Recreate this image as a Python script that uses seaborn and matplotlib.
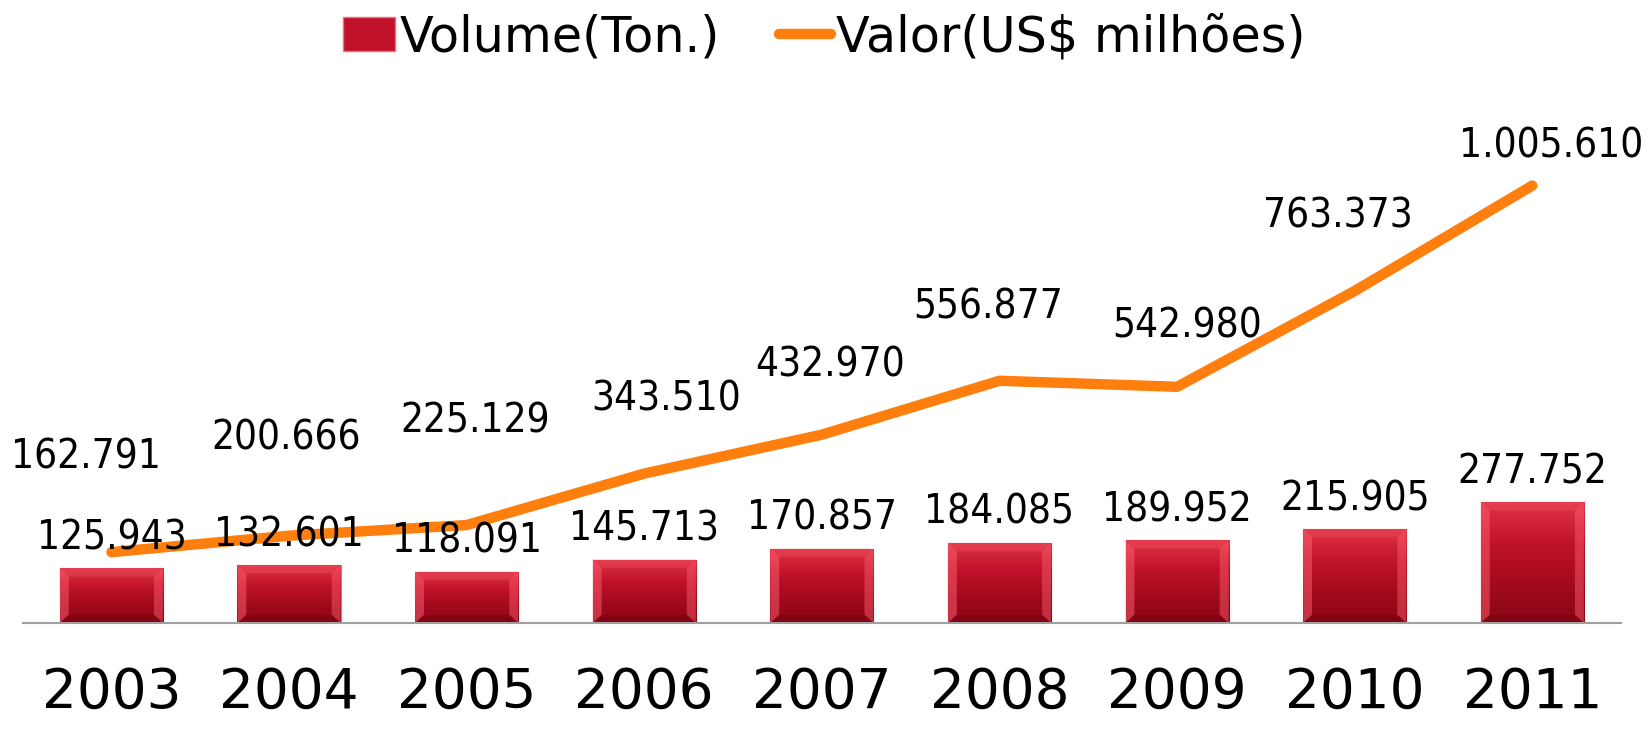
import numpy as np
import pandas as pd
import matplotlib
matplotlib.use("Agg")
import matplotlib.pyplot as plt
from matplotlib import font_manager
from matplotlib.patches import Polygon, Patch
from matplotlib.lines import Line2D
import seaborn as sns

years = ["2003", "2004", "2005", "2006", "2007", "2008", "2009", "2010", "2011"]
volume = [125943, 132601, 118091, 145713, 170857, 184085, 189952, 215905, 277752]
valor = [162791, 200666, 225129, 343510, 432970, 556877, 542980, 763373, 1005610]

# label offsets in pixels (dx, dy) for the line labels
valor_dx = [-25, -3, 9, 22, 8, -11, 10, -17, 19]
valor_dy = [95, 97, 104, 74, 69, 73, 60, 74, 39]


def fmt(v):
    return f"{v:,}".replace(",", ".")


sns.set_theme(style="white")
plt.rcParams["font.family"] = ["DejaVu Sans"]

cond = font_manager.FontProperties(family="DejaVu Sans", stretch="condensed")
cond_file = font_manager.findfont(cond)
is_cond = "Condensed" in cond_file
label_size = 29 if is_cond else 26

df = pd.DataFrame({"ano": years, "volume": volume, "valor": valor})

fig = plt.figure(figsize=(16.48, 7.3), dpi=100)
ax = fig.add_axes([0.0137, 0.1466, 0.97, 0.715])

sns.barplot(data=df, x="ano", y="volume", color="#c0102a", width=0.58,
            saturation=1, ax=ax, zorder=2)

# gradient + bevel look on the bars
grad = np.linspace(0, 1, 256).reshape(-1, 1)
cmap = matplotlib.colors.LinearSegmentedColormap.from_list(
    "barred", ["#e03444", "#c2132b", "#a30a1e", "#8a0614"])
bx, by = 0.05, 19000
for p in ax.patches:
    x0, y0 = p.get_x(), p.get_y()
    w, h = p.get_width(), p.get_height()
    im = ax.imshow(grad, cmap=cmap, aspect="auto", extent=[x0, x0 + w, y0, y0 + h],
                   origin="upper", zorder=2.1)
    im.set_clip_path(p)
    p.set_edgecolor("#f07080")
    p.set_linewidth(0.8)
    x1, y1 = x0 + w, y0 + h
    left = Polygon([[x0, y0], [x0, y1], [x0 + bx, y1 - by], [x0 + bx, y0 + by]],
                   closed=True, facecolor="#ff6070", alpha=0.5, lw=0, zorder=2.2)
    right = Polygon([[x1, y0], [x1, y1], [x1 - bx, y1 - by], [x1 - bx, y0 + by]],
                    closed=True, facecolor="#ff6070", alpha=0.45, lw=0, zorder=2.2)
    top = Polygon([[x0, y1], [x1, y1], [x1 - bx, y1 - by], [x0 + bx, y1 - by]],
                  closed=True, facecolor="#f05565", alpha=0.35, lw=0, zorder=2.2)
    bot = Polygon([[x0, y0], [x1, y0], [x1 - bx, y0 + by], [x0 + bx, y0 + by]],
                  closed=True, facecolor="#700010", alpha=0.35, lw=0, zorder=2.2)
    for poly in (left, right, top, bot):
        ax.add_patch(poly)

sns.lineplot(x=np.arange(len(years)), y=valor, color="#ff7f0e", linewidth=7.5,
             solid_capstyle="round", solid_joinstyle="round", ax=ax, zorder=3)

for i, v in enumerate(volume):
    ax.annotate(fmt(v), (i, v), xytext=(0, 30), textcoords="offset pixels",
                ha="center", va="center", fontsize=label_size, color="black",
                fontstretch="condensed", zorder=4)
for i, v in enumerate(valor):
    ax.annotate(fmt(v), (i, v), xytext=(valor_dx[i], valor_dy[i]),
                textcoords="offset pixels", ha="center", va="center",
                fontsize=label_size, color="black", fontstretch="condensed", zorder=4)

ax.set_xlim(-0.5, len(years) - 0.5)
ax.set_ylim(0, 1.2e6)
ax.set_yticks([])
ax.set_xlabel("")
ax.set_ylabel("")
for s in ["top", "right", "left"]:
    ax.spines[s].set_visible(False)
ax.spines["bottom"].set_color("#a0a0a0")
ax.spines["bottom"].set_linewidth(1.5)
ax.tick_params(axis="x", length=0, pad=31, labelsize=39.5, labelcolor="black")

handles = [Patch(facecolor="#c0102a", edgecolor="#f07080"),
           Line2D([0], [0], color="#ff7f0e", lw=7.5, solid_capstyle="round")]
fig.legend(handles, ["Volume(Ton.)", "Valor(US$ milhões)"], loc="center",
           bbox_to_anchor=(0.5, 0.949), ncol=2, frameon=False, fontsize=35.5,
           handlelength=1.05, handletextpad=0.1, columnspacing=1.2,
           labelcolor="black")

fig.savefig("out.png", dpi=100)
